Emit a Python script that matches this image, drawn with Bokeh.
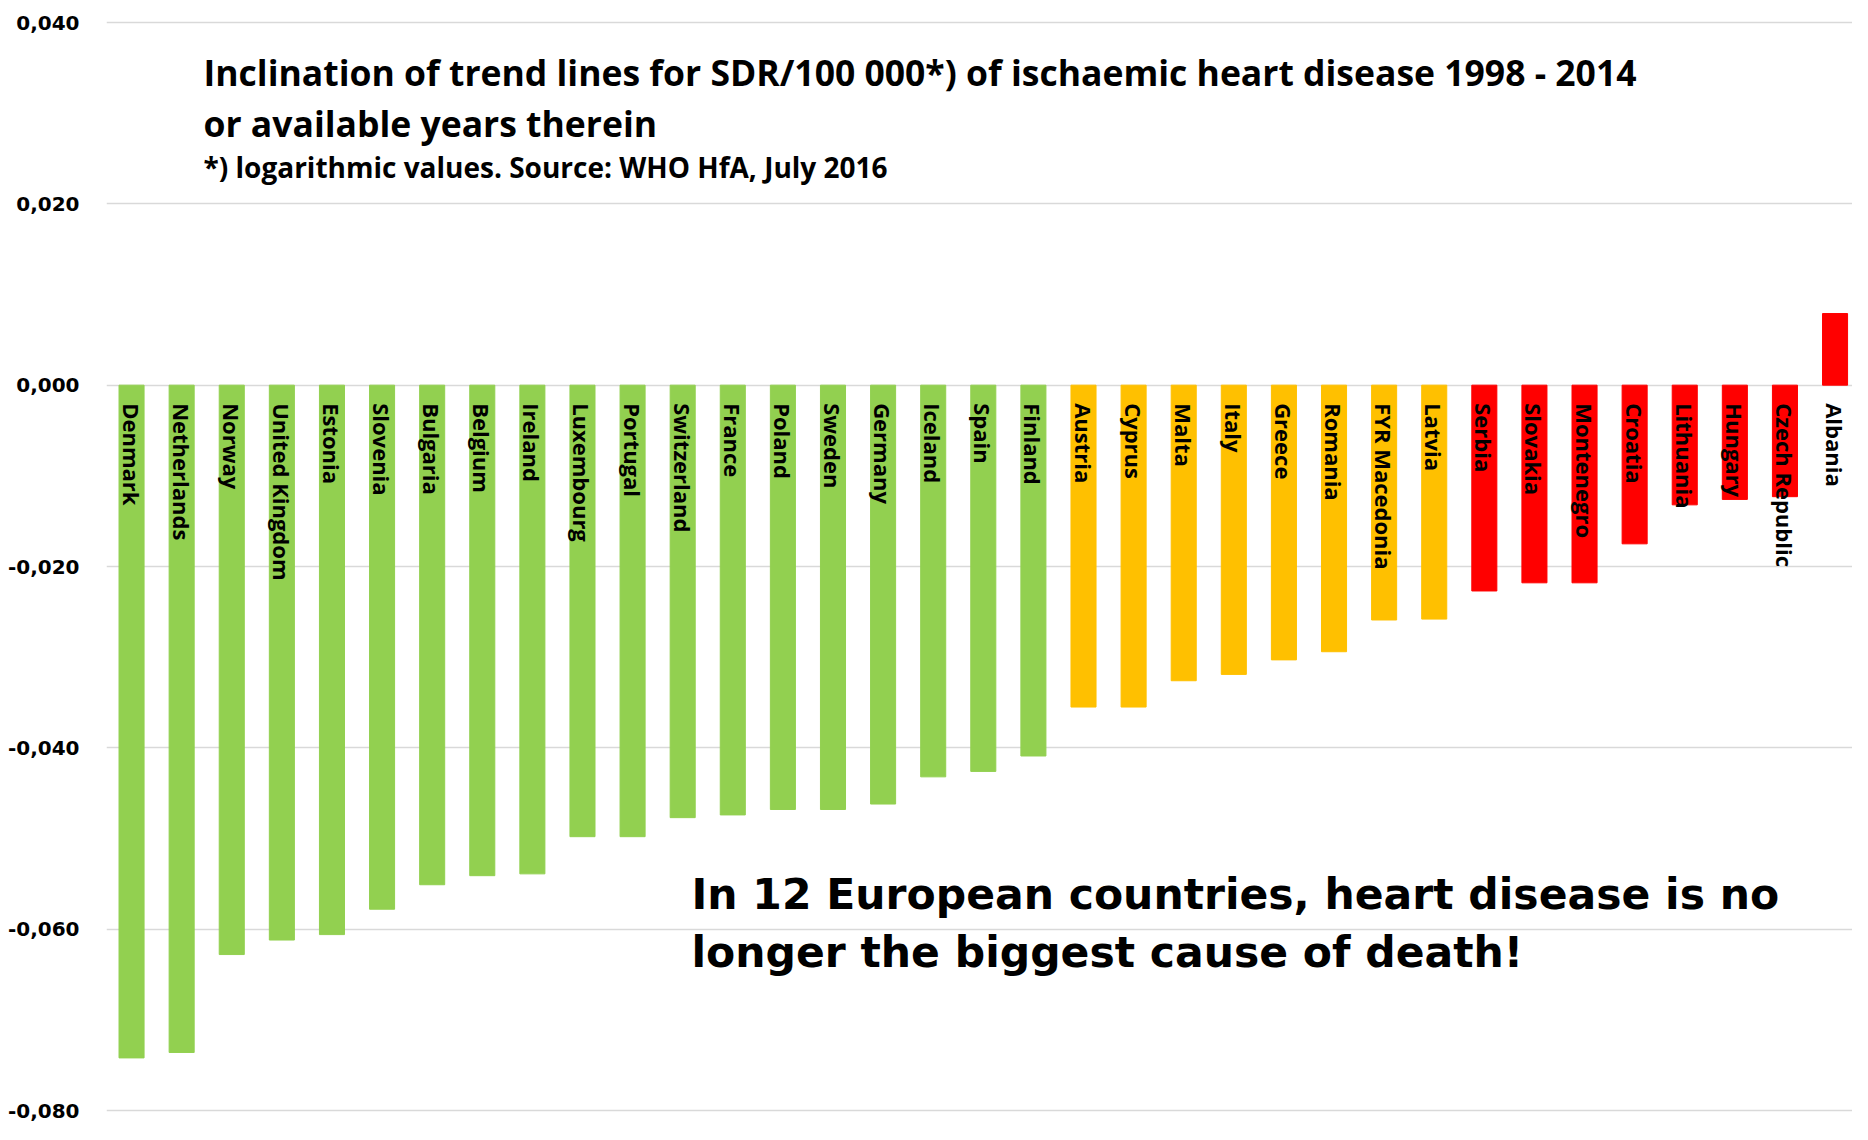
import math
from bokeh.plotting import figure
from bokeh.models import ColumnDataSource, Range1d, FixedTicker, CustomJSTickFormatter, Label
from bokeh.core.properties import value
from bokeh.embed import file_html
from bokeh.resources import INLINE

# ---- data ----
green_countries = ["Denmark", "Netherlands", "Norway", "United Kingdom", "Estonia", "Slovenia",
                   "Bulgaria", "Belgium", "Ireland", "Luxembourg", "Portugal", "Switzerland",
                   "France", "Poland", "Sweden", "Germany", "Iceland", "Spain", "Finland"]
green_values = [-0.0742, -0.0736, -0.0628, -0.0612, -0.0606, -0.0578, -0.0551, -0.0541, -0.0539,
                -0.0498, -0.0498, -0.0477, -0.0474, -0.0468, -0.0468, -0.0462, -0.0432, -0.0426, -0.0409]
orange_countries = ["Austria", "Cyprus", "Malta", "Italy", "Greece", "Romania", "FYR Macedonia", "Latvia"]
orange_values = [-0.0355, -0.0355, -0.0326, -0.0319, -0.0303, -0.0294, -0.0259, -0.0258]
red_countries = ["Serbia", "Slovakia", "Montenegro", "Croatia", "Lithuania", "Hungary",
                 "Czech Republic", "Albania"]
red_values = [-0.0227, -0.0218, -0.0218, -0.0175, -0.0132, -0.0126, -0.0123, 0.0079]

tick_values = [-0.08, -0.06, -0.04, -0.02, 0.0, 0.02, 0.04]

title_line1 = "Inclination of trend lines for SDR/100 000*) of ischaemic heart disease 1998 - 2014"
title_line2 = "or available years therein"
subtitle = "*) logarithmic values. Source: WHO HfA, July 2016"
note_line1 = "In 12 European countries, heart disease is no"
note_line2 = "longer the biggest cause of death!"

GREEN, ORANGE, RED = "#92D050", "#FFC000", "#FF0000"

countries = green_countries + orange_countries + red_countries
values = green_values + orange_values + red_values
colors = [GREEN] * len(green_countries) + [ORANGE] * len(orange_countries) + [RED] * len(red_countries)
idx = list(range(len(countries)))

# ---- layout ----
W, H = 1852, 1124
BORDER_LEFT = 106
TOP_GRID_PX = 22
scale = (H - 14 - TOP_GRID_PX) / 0.12       # px per data unit
y_end = 0.04 + TOP_GRID_PX / scale
y_start = y_end - H / scale
cat_px = (1835 - 131.5) / 34
x_end = -0.5 + (W - BORDER_LEFT) / cat_px


def ydat(page_y):
    return y_end - page_y / scale


def xdat(page_x):
    return -0.5 + (page_x - BORDER_LEFT) / cat_px


p = figure(width=W, height=H, output_backend="svg", toolbar_location=None,
           x_range=Range1d(-0.5, x_end), y_range=Range1d(y_start, y_end),
           min_border_left=BORDER_LEFT, min_border_right=0, min_border_top=0,
           min_border_bottom=0)
p.outline_line_color = None
p.xaxis.visible = False
p.xgrid.visible = False
p.ygrid.ticker = FixedTicker(ticks=tick_values)
p.ygrid.grid_line_color = "#D9D9D9"
p.ygrid.grid_line_width = 1.5

ya = p.yaxis[0]
ya.ticker = FixedTicker(ticks=tick_values)
ya.formatter = CustomJSTickFormatter(code="return tick.toFixed(3).replace('.', ',');")
ya.axis_line_color = None
ya.major_tick_line_color = None
ya.minor_tick_line_color = None
ya.major_tick_out = 0
ya.major_tick_in = 0
ya.major_label_standoff = 27
ya.major_label_text_font = "DejaVu Sans"
ya.major_label_text_font_style = "bold"
ya.major_label_text_font_size = "20px"
ya.major_label_text_color = "#000000"

src = ColumnDataSource(dict(x=idx, top=values, color=colors, name=countries,
                            ly=[-18 / scale] * len(idx)))
p.vbar(x="x", top="top", bottom=0, width=0.5, fill_color="color", line_color="color", source=src)
p.text(x="x", y="ly", text="name", angle=-math.pi / 2, text_align="left", text_baseline="middle",
       text_font=value("Open Sans"), text_font_style="bold", text_font_size="22px",
       text_color="#000000", source=src)

for txt, py, size in [(title_line1, 71, "35.5px"), (title_line2, 122, "35.5px"), (subtitle, 166, "28px")]:
    p.add_layout(Label(x=xdat(203), y=ydat(py), text=txt, text_font="Open Sans", text_font_style="bold",
                       text_font_size=size, text_color="#000000", text_baseline="alphabetic"))

for txt, py in [(note_line1, 894), (note_line2, 952)]:
    p.add_layout(Label(x=xdat(691), y=ydat(py), text=txt, text_font="DejaVu Sans", text_font_style="bold",
                       text_font_size="42.5px", text_color="#000000", text_baseline="alphabetic"))

open("out.html", "w").write(file_html(p, INLINE))
